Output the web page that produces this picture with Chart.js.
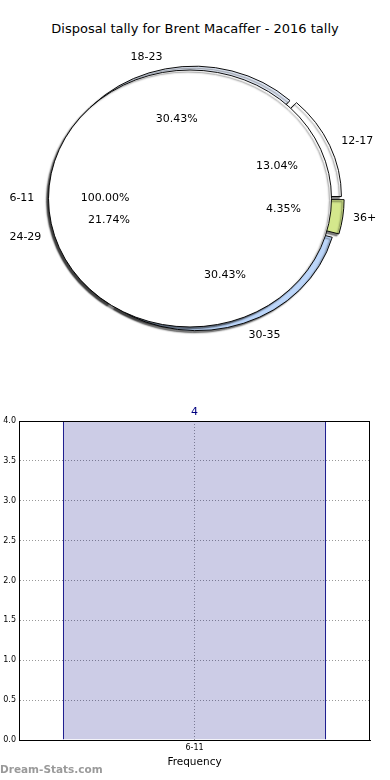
<!DOCTYPE html>
<html>
<head>
<meta charset="utf-8">
<script src="https://cdn.jsdelivr.net/npm/chart.js@4.4.1/dist/chart.umd.min.js"></script>
<style>
  body { margin: 0; background: #fff; }
  #wrap { position: relative; width: 390px; height: 780px; font-family: "DejaVu Sans", sans-serif; }
  #title { position: absolute; top: 21px; left: 0; width: 390px; text-align: center; font-size: 13px; color: #000; }
  .pie { position: absolute; left: 0; top: 0; }
  #barChart { position: absolute; left: 0; top: 400px; }
  #mark { position: absolute; left: 0; top: 763px; font-size: 10.5px; font-weight: bold; color: #9a9a9a; }
</style>
</head>
<body>
<div id="wrap">
  <div id="title">Disposal tally for Brent Macaffer - 2016 tally</div>
  <canvas id="pieBack" class="pie" width="390" height="397"></canvas>
  <canvas id="pieFront" class="pie" width="390" height="397"></canvas>
  <canvas id="barChart" width="390" height="380"></canvas>
  <div id="mark">Dream-Stats.com</div>
</div>
<script>
// pie data (drawn counter-clockwise from 3 o'clock, like the original)
var ageGroups = ['12-17', '18-23', '24-29', '30-35', '36+'];
var ageCounts = [3, 7, 5, 7, 1];
var ageColors = ['#ffffff', '#e4ecfa', '#a0a0a0', '#bcd6fa', '#d4e88c'];

// second pie laid on top
var frontGroups = ['6-11'];
var frontCounts = [4];

// bar chart
var barCategories = ['6-11'];
var barValues = [4];
var yMax = 4;
var yStep = 0.5;

var EXPLODE = 5;    // px each back wedge is pushed out
var SQUASH = 0.908; // pie is drawn as an ellipse

function rev(a) { return a.slice().reverse(); }

var ellipsePlugin = {
    id: 'ellipse',
    beforeDatasetsDraw: function (chart) {
        var c = chart.ctx, a = chart.chartArea;
        var cx = (a.left + a.right) / 2, cy = (a.top + a.bottom) / 2;
        c.save();
        c.translate(cx, cy);
        c.scale(1, SQUASH);
        c.translate(-cx, -cy);
        c.shadowColor = 'rgba(0,0,0,0.5)';
        c.shadowOffsetX = -2;
        c.shadowOffsetY = 2;
        c.shadowBlur = 1.5;
    },
    afterDatasetsDraw: function (chart, args, opts) {
        var c = chart.ctx;
        if (opts.outline) {
            // full-circle wedge: stroke only the rim, no radius line
            chart.getDatasetMeta(0).data.forEach(function (el) {
                c.beginPath();
                c.arc(el.x, el.y, el.outerRadius, 0, 2 * Math.PI);
                c.lineWidth = 1;
                c.strokeStyle = '#000';
                c.stroke();
            });
        }
        c.restore();
    }
};

var backChart;

// labels for both pies, drawn on the top canvas so they sit above the white pie
var pieLabelPlugin = {
    id: 'pieLabels',
    afterDraw: function (chart) {
        var c = chart.ctx;
        c.save();
        c.font = '11px "DejaVu Sans"';
        c.fillStyle = '#000';
        c.textBaseline = 'middle';
        [[backChart, EXPLODE], [chart, 0]].forEach(function (pair) {
            var ch = pair[0], ex = pair[1];
            var ds = ch.data.datasets[0];
            var tot = ds.data.reduce(function (a, b) { return a + b; }, 0);
            ch.getDatasetMeta(0).data.forEach(function (el, i) {
                var mid = (el.startAngle + el.endAngle) / 2;
                var cs = Math.cos(mid), sn = Math.sin(mid);
                var ox = el.x + ex * cs, oy = el.y + ex * sn * SQUASH;
                var r = el.outerRadius;
                c.textAlign = cs < -1e-9 ? 'right' : 'left';
                c.fillText(ch.data.labels[i], ox + 1.1 * r * cs, oy + 1.1 * r * sn * SQUASH);
                c.textAlign = 'center';
                c.fillText((ds.data[i] / tot * 100).toFixed(2) + '%', ox + 0.6 * r * cs, oy + 0.6 * r * sn * SQUASH);
            });
        });
        c.restore();
    }
};

function pieOptions(padRight, outline) {
    return {
        responsive: false,
        animation: false,
        rotation: 90,
        layout: { padding: { right: padRight } },
        plugins: {
            legend: { display: false },
            tooltip: { enabled: false },
            ellipse: { outline: outline }
        }
    };
}

backChart = new Chart(document.getElementById('pieBack').getContext('2d'), {
    type: 'pie',
    data: {
        labels: rev(ageGroups),
        datasets: [{
            data: rev(ageCounts),
            backgroundColor: rev(ageColors),
            borderColor: '#000',
            borderWidth: 1,
            radius: 140.5,
            offset: 4 * EXPLODE
        }]
    },
    options: pieOptions(0, false),
    plugins: [ellipsePlugin]
});

new Chart(document.getElementById('pieFront').getContext('2d'), {
    type: 'pie',
    data: {
        labels: frontGroups,
        datasets: [{
            data: frontCounts,
            backgroundColor: '#ffffff',
            borderWidth: 0,
            radius: 141.5,
            offset: 0
        }]
    },
    options: pieOptions(2 * EXPLODE, true),
    plugins: [ellipsePlugin, pieLabelPlugin]
});

// Bar Chart
var framePlugin = {
    id: 'frame',
    afterDatasetsDraw: function (chart) {
        var c = chart.ctx, a = chart.chartArea;
        c.save();
        c.strokeStyle = '#000';
        c.lineWidth = 1;
        c.strokeRect(a.left + 0.5, a.top + 0.5, a.right - a.left - 1, a.bottom - a.top);
        c.font = '11px "DejaVu Sans"';
        c.fillStyle = '#000080';
        c.textAlign = 'center';
        c.textBaseline = 'bottom';
        chart.getDatasetMeta(0).data.forEach(function (bar, i) {
            c.fillText(String(barValues[i]), bar.x, bar.y - 3);
        });
        c.restore();
    }
};

new Chart(document.getElementById('barChart').getContext('2d'), {
    type: 'bar',
    data: {
        labels: barCategories,
        datasets: [{
            label: 'Frequency',
            data: barValues,
            backgroundColor: 'rgba(0,0,128,0.2)',
            borderColor: '#000080',
            borderWidth: { left: 1, right: 1, top: 1, bottom: 0 },
            borderSkipped: 'start',
            categoryPercentage: 1,
            barPercentage: 0.75
        }]
    },
    options: {
        responsive: false,
        animation: false,
        layout: { padding: { top: 21, right: 20, left: 0, bottom: 11 } },
        plugins: { legend: { display: false }, tooltip: { enabled: false } },
        scales: {
            x: {
                grid: { offset: false, color: '#999', drawTicks: false },
                border: { color: '#000', dash: [1, 2] },
                ticks: { color: '#000', font: { size: 8, family: 'DejaVu Sans' }, padding: 3 },
                title: { display: true, text: 'Frequency', color: '#000', font: { size: 10.5, family: 'DejaVu Sans' }, padding: 0 },
                afterFit: function (s) { s.height = 29; }
            },
            y: {
                min: 0,
                max: yMax,
                grid: { color: '#999', drawTicks: false },
                border: { color: '#000', dash: [1, 2] },
                ticks: {
                    stepSize: yStep,
                    color: '#000',
                    font: { size: 8, family: 'DejaVu Sans' },
                    padding: 3,
                    callback: function (v) { return v.toFixed(1); }
                },
                afterFit: function (s) { s.width = 19; }
            }
        }
    },
    plugins: [framePlugin]
});
</script>
</body>
</html>
